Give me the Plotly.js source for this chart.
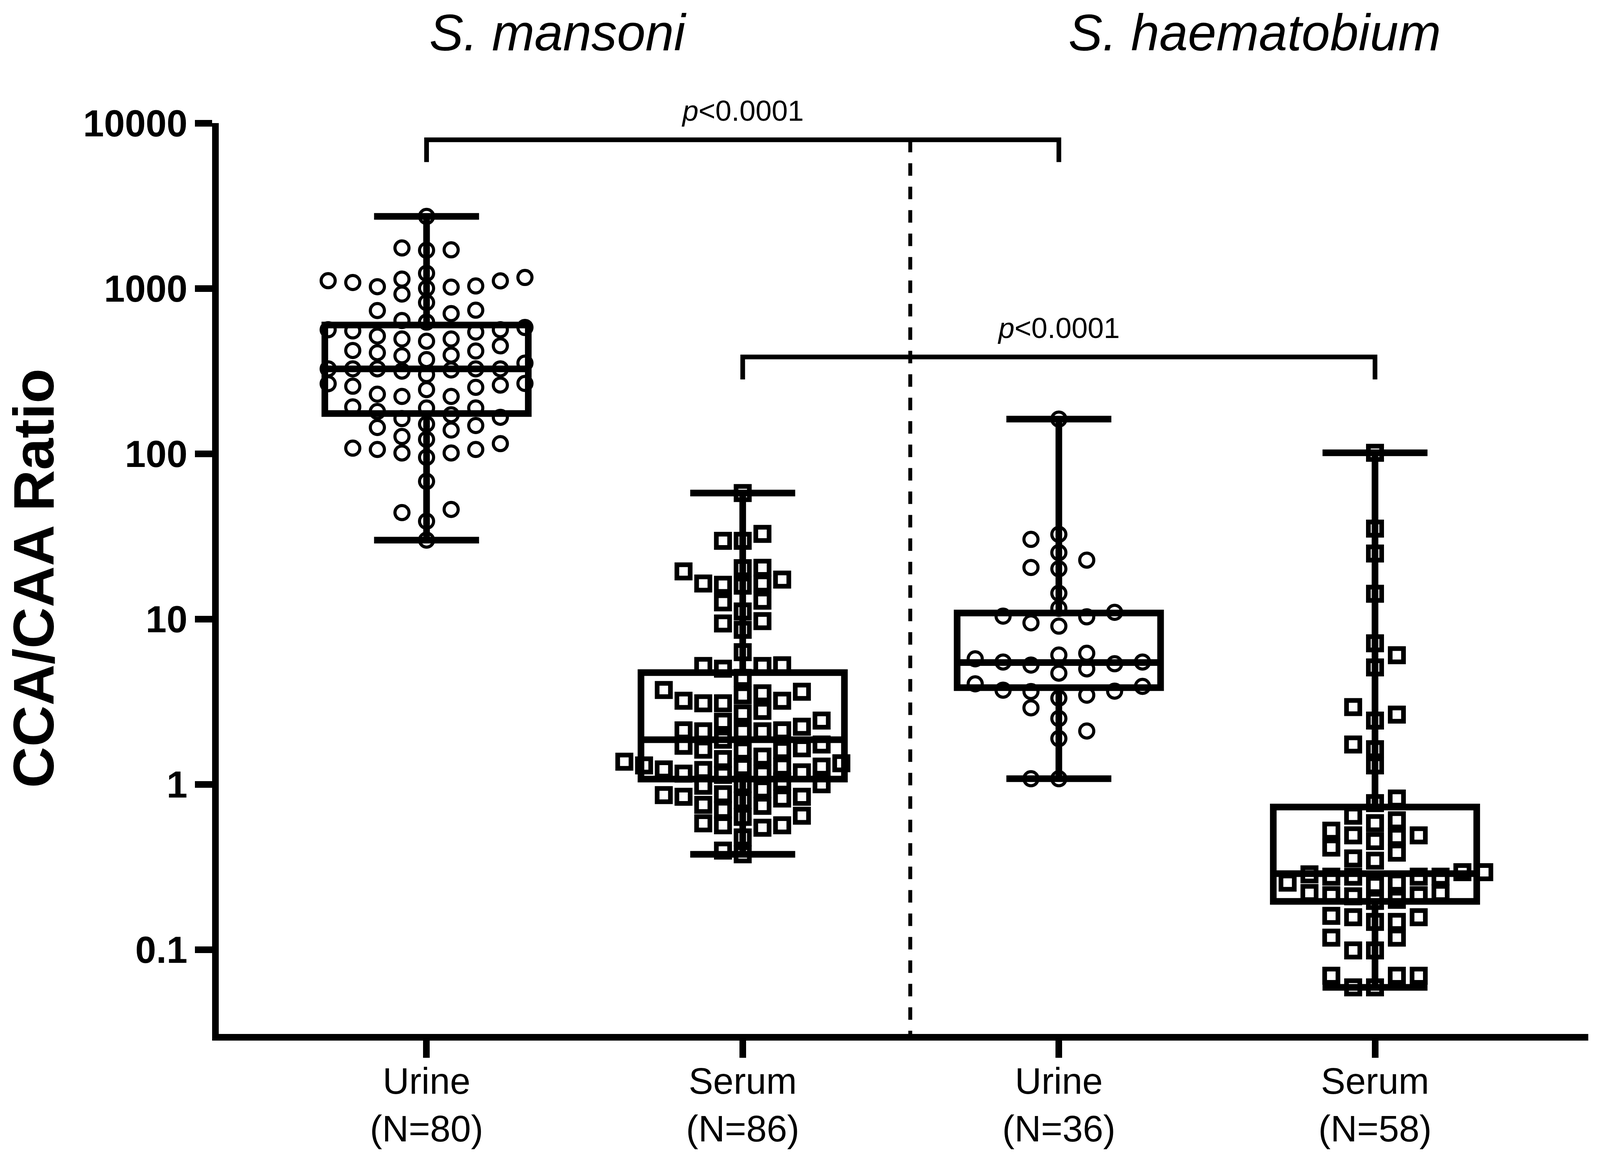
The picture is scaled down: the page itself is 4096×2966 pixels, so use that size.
<!DOCTYPE html>
<html>
<head>
<meta charset="utf-8">
<script src="https://cdn.plot.ly/plotly-3.0.1.min.js"></script>
<style>html,body{margin:0;padding:0;background:#fff;}#chart{width:4096px;height:2966px;}</style>
</head>
<body>
<div id="chart"></div>
<script>
// ---------------- DATA ----------------
const categories = ["Urine<br>(N=80)", "Serum<br>(N=86)", "Urine<br>(N=36)", "Serum<br>(N=58)"];
const species = ["S. mansoni", "S. haematobium"];

const smUrine = [2725, 1700, 1756, 1711, 1024, 1164, 1018, 821, 639, 1138,
  924, 738, 580, 1234, 1001, 704, 553, 1085, 544, 1034,
  734, 479, 1110, 515, 418, 1113, 562, 391, 562, 408,
  326, 266, 625, 494, 395, 316, 256, 494, 326, 229,
  449, 353, 252, 371, 301, 421, 326, 244, 326, 222,
  326, 265, 321, 260, 222, 189, 192, 180, 189, 163,
  166, 172, 148, 144, 139, 151, 127, 122, 115, 101,
  108, 101, 95, 106, 106, 68, 46, 44, 39, 30];

const smSerum = [57.8, 32.7, 29.7, 29.7, 19.4, 20.4, 20.3, 16.4, 15.9, 16.4,
  17.3, 16.1, 12.6, 12.9, 11.1, 8.6, 9.4, 9.7, 6.3, 5.25,
  5.2, 5.2, 5.0, 4.4, 3.63, 3.09, 2.78, 3.20, 3.20, 3.45,
  3.09, 3.55, 3.72, 2.68, 2.12, 2.23, 2.39, 1.86, 2.09, 2.09,
  2.09, 2.12, 2.43, 1.74, 1.61, 1.65, 1.71, 1.62, 1.60, 1.34,
  1.37, 1.28, 1.23, 1.30, 1.47, 1.42, 1.27, 1.16, 1.28, 1.22,
  1.14, 1.0, 0.98, 1.04, 1.16, 1.18, 1.00, 0.87, 0.84, 0.80,
  0.86, 0.93, 0.75, 0.82, 0.74, 0.84, 0.70, 0.635, 0.58, 0.645,
  0.565, 0.546, 0.565, 0.477, 0.397, 0.377];

const shUrine = [162, 32.5, 30.3, 25.2, 20.1, 20.5, 22.7, 14.3, 11.6, 10.97,
  10.4, 10.3, 9.47, 9.05, 6.05, 6.20, 5.36, 5.74, 5.49, 5.49,
  5.26, 4.70, 4.99, 4.05, 3.71, 3.91, 3.46, 3.64, 3.66, 3.32,
  2.90, 2.50, 2.10, 1.89, 1.08, 1.08];

const shSerum = [101.3, 35.2, 24.9, 14.2, 7.13, 6.04, 5.09, 2.93, 2.64, 2.43,
  1.74, 1.63, 1.30,
  0.820, 0.769, 0.645, 0.605, 0.582, 0.491, 0.453, 0.480, 0.524, 0.491,
  0.414, 0.386, 0.356, 0.345,
  0.294, 0.276, 0.276, 0.276, 0.276, 0.285, 0.294, 0.254, 0.246, 0.254,
  0.210, 0.200, 0.213, 0.213, 0.220, 0.220, 0.197,
  0.157, 0.157, 0.147, 0.147, 0.160, 0.118, 0.118, 0.0988, 0.0988,
  0.0694, 0.0694, 0.0694, 0.0591, 0.0591];

// box statistics
const boxQ1     = [175, 1.075, 3.84, 0.1955];
const boxMedian = [326, 1.86, 5.45, 0.288];
const boxQ3     = [600, 4.74, 10.86, 0.728];

const yTickVals = [0.1, 1, 10, 100, 1000, 10000];
const yTickText = ["0.1", "1", "10", "100", "1000", "10000"];
const pLabel = "<i>p</i>&lt;0.0001";

// ---------------- LAYOUT / STYLE ----------------
const groups = [smUrine, smSerum, shUrine, shSerum];
const symbols = ["circle-open", "square-open", "circle-open", "square-open"];
const mSize = [36, 34, 36, 34];
const mLine = [8, 12, 8, 12];
const colStep = [0.0778, 0.0624, 0.0882, 0.0691];   // horizontal spacing of the swarm columns
const minSep = [0.085, 0.09, 0.09, 0.092];           // min vertical gap (decades) inside one column
const FONT = "Liberation Sans, Arial, Helvetica, sans-serif";

function swarm(vals, step, sep) {
  const order = vals.map((v, i) => i).sort((a, b) => vals[a] - vals[b]);
  const cols = {};
  const off = new Array(vals.length);
  let left = 0, right = 0;
  for (const i of order) {
    const ly = Math.log10(vals[i]);
    const free = c => !(cols[c] || []).some(u => Math.abs(u - ly) < sep);
    let c = 0;
    if (!free(0)) {
      for (let k = 1; k < 50; k++) {
        const first = left <= right ? -k : k;
        if (free(first)) { c = first; break; }
        if (free(-first)) { c = -first; break; }
      }
    }
    (cols[c] = cols[c] || []).push(ly);
    if (c < 0) left++; else if (c > 0) right++;
    off[i] = c * step;
  }
  return off;
}

const traces = [];
groups.forEach((vals, g) => {
  traces.push({
    type: "box", x: [g], q1: [boxQ1[g]], median: [boxMedian[g]], q3: [boxQ3[g]],
    lowerfence: [Math.min(...vals)], upperfence: [Math.max(...vals)],
    boxpoints: false, width: 0.6435, whiskerwidth: 0.516,
    fillcolor: "rgba(0,0,0,0)", line: {color: "#000", width: 17},
    hoverinfo: "skip", showlegend: false
  });
});
groups.forEach((vals, g) => {
  const off = swarm(vals, colStep[g], minSep[g]);
  traces.push({
    type: "scatter", mode: "markers",
    x: off.map(o => g + o), y: vals,
    marker: {symbol: symbols[g], size: mSize[g], color: "#000", line: {color: "#000", width: mLine[g]}},
    hoverinfo: "skip", showlegend: false, cliponaxis: false
  });
});

// significance brackets (between categories) and separator
const br1 = {a: 0, b: 2, top: 3.899, leg: 3.764};
const br2 = {a: 1, b: 3, top: 2.585, leg: 2.449};
[br1, br2].forEach(br => {
  traces.push({
    type: "scatter", mode: "lines",
    x: [br.a, br.a, br.b, br.b],
    y: [Math.pow(10, br.leg), Math.pow(10, br.top), Math.pow(10, br.top), Math.pow(10, br.leg)],
    line: {color: "#000", width: 12}, hoverinfo: "skip", showlegend: false
  });
});
const sepX = 1.53;
traces.push({
  type: "scatter", mode: "lines", x: [sepX, sepX], y: [Math.pow(10, br1.top), Math.pow(10, -1.6)],
  line: {color: "#000", width: 10, dash: "32px,28px"}, hoverinfo: "skip", showlegend: false
});

const layout = {
  width: 4096, height: 2966,
  margin: {l: 560, r: 30, t: 315, b: 320, pad: 0},
  paper_bgcolor: "#fff", plot_bgcolor: "#fff",
  showlegend: false,
  font: {family: FONT, color: "#000"},
  xaxis: {
    type: "linear", range: [-0.6573, 3.6746],
    tickvals: [0, 1, 2, 3], ticktext: categories,
    ticks: "outside", ticklen: 44, tickwidth: 17, tickcolor: "#000",
    showline: true, linewidth: 17, linecolor: "#000",
    showgrid: false, zeroline: false, ticklabelstandoff: -21,
    tickfont: {family: FONT, size: 94, color: "#000"}
  },
  yaxis: {
    type: "log", range: [-1.5106, 4],
    tickvals: yTickVals, ticktext: yTickText,
    ticks: "outside", ticklen: 44, tickwidth: 17, tickcolor: "#000",
    showline: true, linewidth: 17, linecolor: "#000",
    showgrid: false, zeroline: false,
    tickfont: {family: FONT, size: 96, color: "#000", weight: 700}
  },
  annotations: [
    {xref: "paper", yref: "paper", x: 0, y: 0.5, xshift: -474, textangle: -90,
     xanchor: "center", yanchor: "middle", showarrow: false,
     text: "CCA/CAA Ratio", font: {family: FONT, size: 146, color: "#000", weight: 700}},
    {xref: "x", yref: "paper", x: 0.416, y: 1.0995, xanchor: "center", yanchor: "middle", showarrow: false,
     text: "<i>" + species[0] + "</i>", font: {family: FONT, size: 131, color: "#000"}},
    {xref: "x", yref: "paper", x: 2.619, y: 1.0995, xanchor: "center", yanchor: "middle", showarrow: false,
     text: "<i>" + species[1] + "</i>", font: {family: FONT, size: 131, color: "#000"}},
    {xref: "x", yref: "y", x: (br1.a + br1.b) / 2, y: br1.top, yshift: 74, xanchor: "center", yanchor: "middle",
     showarrow: false, text: pLabel, font: {family: FONT, size: 74, color: "#000"}},
    {xref: "x", yref: "y", x: (br2.a + br2.b) / 2, y: br2.top, yshift: 74, xanchor: "center", yanchor: "middle",
     showarrow: false, text: pLabel, font: {family: FONT, size: 74, color: "#000"}}
  ]
};

Plotly.newPlot("chart", traces, layout, {displayModeBar: false, staticPlot: true});
</script>
</body>
</html>
